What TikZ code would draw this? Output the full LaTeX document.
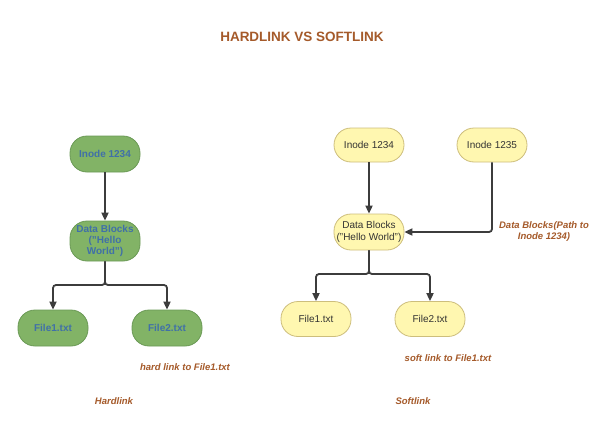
\documentclass[tikz,border=0pt]{standalone}
\usepackage{fontspec}
\setmainfont{Liberation Sans}
\usetikzlibrary{arrows.meta}
\definecolor{gfill}{HTML}{82B366}
\definecolor{gdraw}{HTML}{6A9955}
\definecolor{gtext}{HTML}{4070A8}
\definecolor{yfill}{HTML}{FFF7B0}
\definecolor{ydraw}{HTML}{CDBE7C}
\definecolor{ytext}{HTML}{333333}
\definecolor{brown}{HTML}{A55A2A}
\definecolor{conncol}{HTML}{3C3C3C}
\begin{document}
\begin{tikzpicture}[x=1pt,y=-1pt,
  gbox/.style={draw=gdraw, fill=gfill, line width=0.8pt, rounded corners=17pt,
    minimum width=70pt, minimum height=36pt, inner sep=0pt, align=center,
    text=gtext, font=\fontsize{10}{11}\selectfont\bfseries},
  ybox/.style={draw=ydraw, fill=yfill, line width=0.8pt, rounded corners=17pt,
    minimum width=70pt, minimum height=35pt, inner sep=0pt, align=center,
    text=ytext, font=\fontsize{10}{11.5}\selectfont},
  conn/.style={draw=conncol, line width=1.8pt, rounded corners=3pt,
    -{Triangle[length=8pt,width=7pt]}},
  lbl/.style={text=brown, font=\fontsize{9.5}{11}\selectfont\bfseries\itshape, inner sep=0pt, align=center}
]
\useasboundingbox (0,0) rectangle (612,431);
\fill[white] (0,0) rectangle (612,431);

\node[text=brown, font=\fontsize{13.5}{15}\selectfont\bfseries] (title) at (302,37) {HARDLINK VS SOFTLINK};

% Hardlink side
\node[gbox] (li) at (105,154) {Inode 1234};
\node[gbox, minimum height=40pt] (ld) at (105,241) {Data Blocks\\("Hello\\World")};
\node[gbox] (lf1) at (53,328) {File1.txt};
\node[gbox] (lf2) at (167,328) {File2.txt};
\coordinate (lj) at (105,285);
\draw[conn] (li) -- (ld);
\draw[conn] (ld.south) -- (lj) -| (lf1.north);
\draw[conn] (ld.south) -- (lj) -| (lf2.north);
\node[lbl] (hlt) at (185,367) {hard link to File1.txt};
\node[lbl] (hlc) at (114,401) {Hardlink};

% Softlink side
\node[ybox, minimum height=34pt] (ri1) at (369,145) {Inode 1234};
\node[ybox, minimum height=34pt] (ri2) at (492,145) {Inode 1235};
\node[ybox, minimum height=36pt] (rd) at (369,232) {Data Blocks\\("Hello World")};
\node[ybox] (rf1) at (316,319) {File1.txt};
\node[ybox] (rf2) at (430,319) {File2.txt};
\coordinate (rj) at (369,274);
\draw[conn] (ri1) -- (rd);
\draw[conn] (ri2.south) |- (rd.east);
\draw[conn] (rd.south) -- (rj) -| (rf1.north);
\draw[conn] (rd.south) -- (rj) -| (rf2.north);
\node[lbl] (pth) at (544,232) {Data Blocks(Path to\\Inode 1234)};
\node[lbl] (slt) at (448,358) {soft link to File1.txt};
\node[lbl] (slc) at (413,401) {Softlink};
\end{tikzpicture}
\end{document}
